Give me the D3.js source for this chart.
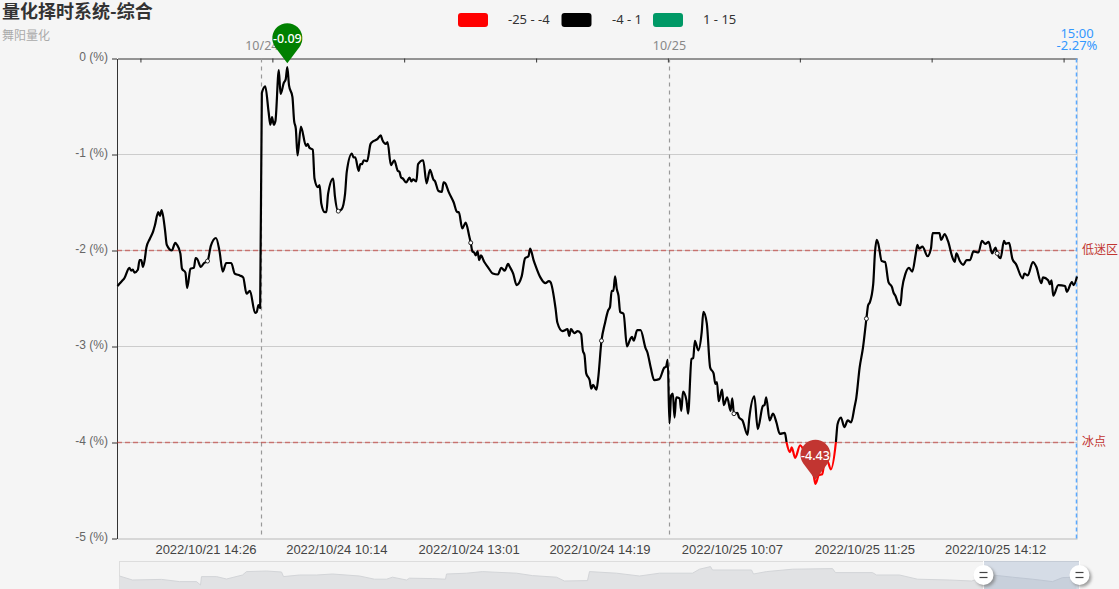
<!DOCTYPE html>
<html>
<head>
<meta charset="utf-8">
<script src="https://cdn.jsdelivr.net/npm/d3@7"></script>
<style>
    html, body { margin: 0; padding: 0; background: #f5f5f5; overflow: hidden; }
    svg { display: block; font-family: "Noto Sans", "Noto Sans CJK SC", sans-serif; }
</style>
</head>
<body>
<svg id="chart"></svg>
<script>
// [minute index, percent]
const day1021 = [[0,-2.37],[1,-2.35],[3,-2.31],[4,-2.29],[7,-2.18],[8,-2.21],[9,-2.20],[10,-2.23],[12,-2.20],[13,-2.10],[14,-2.10],[15,-2.17],[16,-2.10],
    [17,-1.97],[19,-1.88],[21,-1.80],[22,-1.74],[24,-1.60],[25,-1.64],[26,-1.58],[28,-1.79],[29,-1.94],[32,-2.00],[34,-1.92],[35,-1.94],[37,-2.03],
    [38,-2.19],[40,-2.23],[41,-2.39],[43,-2.19],[45,-2.18],[46,-2.08],[47,-2.09],[49,-2.17],[51,-2.13],[53,-2.11],[55,-1.95],[58,-1.87],[60,-2.00],
    [62,-2.22],[64,-2.13],[67,-2.13],[69,-2.24],[72,-2.26],[74,-2.28],[76,-2.45],[78,-2.42],[81,-2.65],[82,-2.64],[83,-2.57],[84,-2.60]];
const day1024 = [[85,-0.36],[87,-0.29],[89,-0.56],[90,-0.69],[91,-0.61],[92,-0.69],[93,-0.65],[95,-0.12],[96,-0.37],[98,-0.25],[99,-0.22],[100,-0.09],
    [101,-0.28],[103,-0.40],[104,-0.65],[105,-0.73],[106,-1.01],[108,-0.71],[111,-0.91],[112,-0.89],[113,-0.93],[115,-0.95],[116,-1.25],[118,-1.34],
    [119,-1.32],[120,-1.51],[122,-1.60],[123,-1.60],[124,-1.41],[127,-1.25],[128,-1.43],[130,-1.59],[132,-1.57],[134,-1.41],[135,-1.18],[138,-0.99],
    [139,-1.03],[140,-1.03],[142,-1.17],[143,-1.10],[144,-1.10],[145,-1.06],[147,-1.07],[149,-0.89],[150,-0.87],[153,-0.84],[155,-0.80],[156,-0.85],
    [158,-0.89],[159,-0.87],[161,-1.11],[163,-1.06],[165,-1.17],[166,-1.18],[167,-1.24],[168,-1.25],[170,-1.29],[172,-1.24],[173,-1.28],[174,-1.26],
    [176,-1.28],[177,-1.10],[180,-1.06],[182,-1.30],[184,-1.16],[186,-1.26],[187,-1.28],[189,-1.38],[191,-1.39],[192,-1.29],[193,-1.30],[195,-1.39],
    [198,-1.50],[200,-1.60],[201,-1.60],[203,-1.77],[205,-1.71],[207,-1.84],[208,-1.92],[209,-2.01],[210,-2.02],[211,-2.05],[212,-2.01],[213,-2.10],
    [214,-2.05],[216,-2.12],[218,-2.17],[221,-2.24],[224,-2.25],[226,-2.18],[228,-2.21],[230,-2.14],[231,-2.17],[233,-2.24],[235,-2.36],[238,-2.27],
    [240,-2.08],[242,-2.06],[243,-1.98],[245,-2.10],[246,-2.15],[249,-2.28],[252,-2.34],[254,-2.32],[255,-2.33],[258,-2.61],[259,-2.75],[262,-2.84],
    [265,-2.82],[266,-2.89],[267,-2.82],[269,-2.86],[271,-2.84],[273,-2.87],[274,-3.04],[275,-3.09],[276,-3.28],[278,-3.35],[279,-3.44],[280,-3.40],
    [282,-3.45],[283,-3.34],[285,-2.94],[287,-2.76],[289,-2.62],[290,-2.59],[291,-2.42],[292,-2.42],[293,-2.27],[294,-2.40],[295,-2.47],[296,-2.64],
    [298,-2.66],[300,-3.00],[302,-2.92],[303,-2.90],[304,-2.94],[306,-2.83],[308,-2.83],[311,-3.02],[312,-3.06],[314,-3.22],[316,-3.35],[319,-3.34],
    [322,-3.22],[323,-3.21],[324,-3.14]];
const day1025 = [[325,-3.80],[326,-3.51],[327,-3.49],[328,-3.74],[329,-3.53],[331,-3.54],[332,-3.67],[333,-3.47],[335,-3.56],[336,-3.70],[338,-3.13],
    [339,-3.12],[340,-2.94],[342,-3.04],[344,-2.85],[345,-2.64],[347,-2.76],[349,-3.22],[351,-3.28],[352,-3.39],[353,-3.37],[354,-3.57],[356,-3.45],
    [357,-3.61],[359,-3.53],[361,-3.67],[362,-3.54],[363,-3.70],[365,-3.69],[366,-3.74],[368,-3.77],[371,-3.92],[372,-3.75],[375,-3.52],[377,-3.86],
    [380,-3.62],[381,-3.61],[382,-3.53],[384,-3.77],[386,-3.70],[388,-3.79],[390,-3.91],[393,-3.90],[394,-4.00],[396,-4.10],[397,-4.05],[399,-4.16],
    [402,-4.03],[405,-4.12],[408,-4.25],[410,-4.35],[411,-4.43],[413,-4.34],[415,-4.33],[416,-4.24],[418,-4.19],[420,-4.28],[423,-4.00],[424,-3.81],
    [426,-3.74],[428,-3.84],[430,-3.77],[432,-3.79],[434,-3.63],[435,-3.54],[437,-3.22],[439,-3.01],[441,-2.71],[442,-2.57],[443,-2.54],[445,-2.35],
    [446,-2.03],[447,-1.89],[448,-1.93],[450,-2.11],[452,-2.12],[454,-2.33],[456,-2.38],[457,-2.44],[458,-2.47],[460,-2.56],[461,-2.57],[462,-2.40],
    [464,-2.24],[466,-2.18],[468,-2.22],[470,-2.04],[471,-1.94],[472,-1.98],[474,-1.96],[477,-2.06],[479,-1.98],[480,-1.82],[484,-1.82],[485,-1.89],
    [487,-1.83],[489,-1.90],[492,-2.09],[493,-2.12],[494,-2.03],[496,-2.11],[498,-2.15],[500,-2.10],[502,-2.10],[504,-2.01],[507,-2.02],[509,-1.90],
    [511,-1.93],[513,-1.91],[515,-2.03],[517,-1.97],[518,-2.03],[520,-2.08],[522,-1.90],[523,-1.93],[525,-1.92],[527,-2.09],[529,-2.14],[533,-2.29],
    [534,-2.24],[536,-2.26],[539,-2.12],[541,-2.17],[544,-2.34],[545,-2.28],[548,-2.31],[549,-2.35],[550,-2.31],[551,-2.47],[554,-2.36],[558,-2.37],
    [559,-2.43],[562,-2.33],[563,-2.36],[565,-2.27]];
const pctPoints = day1021.concat(day1024, day1025);

const xLabelIdx = [53, 130, 208, 285, 363, 441, 518];
const xLabels = ["2022/10/21 14:26", "2022/10/24 10:14", "2022/10/24 13:01", "2022/10/24 14:19", "2022/10/25 10:07", "2022/10/25 11:25", "2022/10/25 14:12"];
const topTickIdx = [13.5, 91.2, 168.8, 246.5, 324.1, 401.8, 479.4, 557.1];
const yTicks = [0, -1, -2, -3, -4, -5];
const gridVals = [-1, -2, -3, -4];

const dayBreakIdx = [85, 325];
const dayBreakLabels = ["10/24", "10/25"];
const markVals = [-2, -4];
const markNames = ["低迷区", "冰点"];
const pinIdx = [100, 411];
const pinVals = [-0.09, -4.43];
const pinColors = ["#008000", "#c23531"];
const lastIdx = 565;
const lastTime = "15:00";
const lastPct = "-2.27%";

const legendNames = ["-25 - -4", "-4 - 1", "1 - 15"];
const legendColors = ["#ff0000", "#000000", "#009966"];
const legendX = [458, 561.5, 653];
const legendTextX = [508, 612, 703];

// slider overview, whole history
const overview = [[0,-7.5],[13,-9.5],[42,-9.2],[60,-10.3],[77,-10.3],[81,-12],[82,-7.8],[97,-7.8],[107,-9],[123,-7],[127,-5.3],[147,-5],[162,-5.5],[164,-7.8],
    [180,-7],[197,-7],[213,-6.5],[240,-7.5],[255,-9.1],[267,-9.1],[273,-8.1],[287,-9.5],[290,-8.6],[313,-8.8],[326,-9.1],[327,-6.5],[347,-6.1],[363,-5.3],
    [397,-6.1],[413,-7.3],[437,-8.1],[445,-10],[468,-9.8],[470,-5.3],[497,-6.1],[520,-7.5],[540,-6.1],[573,-6.1],[580,-4.1],[591,-2.8],[593,-4.5],[632,-4.5],
    [634,-6.5],[647,-5.3],[673,-4.1],[713,-3.8],[716,-5.8],[753,-5.8],[757,-7],[780,-7],[798,-9.1],[830,-9.5],[852,-10],[873,-7],[893,-8.1],[913,-9.1],
    [933,-10.3],[943,-8.3],[957,-8.1]];
const sliderWindow = [864, 960];

const width = 1119, height = 589;
const svg = d3.select("#chart").attr("width", width).attr("height", height);

const x = d3.scaleLinear().domain([0, lastIdx]).range([117.5, 1077]);
const y = d3.scaleLinear().domain([-5, 0]).range([538.5, 58.5]);

// grid under everything
svg.append("g").selectAll("line").data(gridVals).enter().append("line")
    .attr("x1", 117).attr("x2", 1077)
    .attr("y1", d => y(d)).attr("y2", d => y(d))
    .attr("stroke", "#cccccc");

// right edge and bottom line
svg.append("line").attr("x1", 1077.5).attr("x2", 1077.5).attr("y1", y(0)).attr("y2", y(-5))
    .attr("stroke", "#dddddd").attr("stroke-width", 1);

// bottom axis, only labels
const xAxis = d3.axisBottom(x).tickValues(xLabelIdx)
    .tickFormat((d, i) => xLabels[i]).tickSize(0).tickPadding(6);
const gx = svg.append("g").attr("transform", "translate(0," + y(-5) + ")").call(xAxis);
gx.select(".domain").attr("stroke", "#cccccc").attr("stroke-width", 1.5);
gx.selectAll("text").attr("fill", "#444").attr("dx", -2).style("font-size", "13px").style("font-family", "inherit");

// top axis, ticks point inwards
const topAxis = d3.axisTop(x).tickValues(topTickIdx).tickFormat("").tickSizeInner(-4).tickSizeOuter(0);
const gt = svg.append("g").attr("transform", "translate(0," + y(0) + ")").call(topAxis);
gt.select(".domain").attr("stroke", "#333");
gt.selectAll("line").attr("stroke", "#333");

const yAxis = d3.axisLeft(y).tickValues(yTicks).tickFormat(d => d + " (%)").tickSize(5).tickSizeOuter(0).tickPadding(4);
const gy = svg.append("g").attr("transform", "translate(117,0)").call(yAxis);
gy.select(".domain").attr("stroke", "#333");
gy.selectAll("line").attr("stroke", "#333");
gy.selectAll("text").attr("fill", "#666").attr("transform", "translate(0,-1.5)").style("font-size", "12px").style("font-family", "inherit");

// day breaks
dayBreakIdx.forEach((d, i) => {
    svg.append("line")
        .attr("x1", Math.floor(x(d)) + 0.5).attr("x2", Math.floor(x(d)) + 0.5)
        .attr("y1", y(0)).attr("y2", y(-5))
        .attr("stroke", "#999").attr("stroke-width", 1.2).attr("stroke-dasharray", "4,4");
    svg.append("text").attr("x", x(d)).attr("y", 50)
        .attr("text-anchor", "middle").attr("fill", "#888").style("font-size", "12.5px")
        .text(dayBreakLabels[i]);
});

// warning levels
markVals.forEach((d, i) => {
    svg.append("line").attr("x1", 117).attr("x2", 1077)
        .attr("y1", y(d)).attr("y2", y(d))
        .attr("stroke", "#c23531").attr("stroke-opacity", 0.6)
        .attr("stroke-width", 1.5).attr("stroke-dasharray", "5,3");
    svg.append("text").attr("x", 1082).attr("y", y(d) + 3)
        .attr("fill", "#c23531").style("font-size", "12px").text(markNames[i]);
});

// latest value line
svg.append("line").attr("x1", 1076.5).attr("x2", 1076.5).attr("y1", y(0)).attr("y2", y(-5))
    .attr("stroke", "#5aa9ff").attr("stroke-width", 1.5).attr("stroke-dasharray", "4,3");
svg.append("text").attr("x", 1077).attr("y", 38).attr("text-anchor", "middle")
    .attr("fill", "#3398ff").style("font-size", "13px").text(lastTime);
svg.append("text").attr("x", 1077).attr("y", 50).attr("text-anchor", "middle")
    .attr("fill", "#3398ff").style("font-size", "13px").text(lastPct);

// line turns red under -4
const grad = svg.append("defs").append("linearGradient")
    .attr("id", "lineColor").attr("gradientUnits", "userSpaceOnUse")
    .attr("x1", 0).attr("x2", 0).attr("y1", y(0)).attr("y2", y(-5));
const redFrom = (y(-4) - y(0)) / (y(-5) - y(0));
grad.append("stop").attr("offset", redFrom).attr("stop-color", "#000");
grad.append("stop").attr("offset", redFrom).attr("stop-color", "#ff0000");

const line = d3.line().x(d => x(d[0])).y(d => y(d[1])).curve(d3.curveMonotoneX);
svg.append("path").datum(pctPoints).attr("d", line)
    .attr("fill", "none").attr("stroke", "url(#lineColor)")
    .attr("stroke-width", 2.2).attr("stroke-linejoin", "round");

// hollow symbols sit on the labelled points
svg.append("g").selectAll("circle").data(xLabelIdx).enter().append("circle")
    .attr("cx", d => x(d)).attr("cy", d => y(pctPoints.find(p => p[0] >= d)[1]))
    .attr("r", 2).attr("fill", "#fff").attr("stroke", "#222").attr("stroke-width", 1);

// pins
function pinPath(r, h) {
    const p = d3.path();
    const a = Math.acos(r / h);
    p.moveTo(0, 0);
    p.lineTo(r * Math.sin(a) * -1, -h + r * Math.cos(a));
    p.arc(0, -h, r, Math.PI - (Math.PI / 2 - a) , (Math.PI / 2 - a), false);
    p.closePath();
    return p.toString();
}
pinIdx.forEach((d, i) => {
    const g = svg.append("g").attr("transform", "translate(" + x(d) + "," + (y(pinVals[i]) - 4) + ")");
    g.append("path").attr("d", pinPath(15, 25)).attr("fill", pinColors[i]);
    g.append("text").attr("y", -20).attr("text-anchor", "middle")
        .attr("fill", "#fff").style("font-size", "12.5px").style("font-weight", 500)
        .text(pinVals[i]);
});

// title
svg.append("text").attr("x", 2).attr("y", 18).attr("fill", "#333")
    .style("font-size", "18px").style("font-weight", "bold")
    .style("font-family", "'Noto Sans CJK SC'").text("量化择时系统-综合");
svg.append("text").attr("x", 2).attr("y", 40).attr("fill", "#aaa")
    .style("font-size", "12px").style("font-family", "'Noto Sans CJK SC'").text("舞阳量化");

// legend
legendNames.forEach((d, i) => {
    svg.append("rect").attr("x", legendX[i]).attr("y", 13).attr("width", 30).attr("height", 14)
        .attr("rx", 3).attr("fill", legendColors[i]);
    svg.append("text").attr("x", legendTextX[i]).attr("y", 24)
        .attr("fill", "#333").style("font-size", "13px").text(d);
});

// slider
const sx = d3.scaleLinear().domain([0, 960]).range([119.5, 1079.5]);
const sy = d3.scaleLinear().domain([-14, 0]).range([589, 561]);
const area = d3.area().x(d => sx(d[0])).y0(sy(-14)).y1(d => sy(d[1]));
svg.append("rect").attr("x", 119.5).attr("y", 561.5).attr("width", 960).attr("height", 30)
    .attr("fill", "#f4f4f4").attr("stroke", "#dddddd");
svg.append("path").datum(overview).attr("d", area).attr("fill", "#e1e2e4");
svg.append("path").datum(overview).attr("d", d3.line().x(d => sx(d[0])).y(d => sy(d[1])))
    .attr("fill", "none").attr("stroke", "#d3d5d8");
svg.append("rect").attr("x", sx(sliderWindow[0])).attr("y", 561)
    .attr("width", sx(sliderWindow[1]) - sx(sliderWindow[0])).attr("height", 28)
    .attr("fill", "#8fa6c8").attr("fill-opacity", 0.3);

sliderWindow.forEach(d => {
    const g = svg.append("g").attr("transform", "translate(" + sx(d) + ",575)");
    g.append("line").attr("y1", -14).attr("y2", 14).attr("stroke", "#fff");
    g.append("circle").attr("cx", 2).attr("cy", 2).attr("r", 10).attr("fill", "#777").attr("fill-opacity", 0.7)
        .style("filter", "blur(1.5px)");
    g.append("circle").attr("r", 10).attr("fill", "#fff");
    g.append("line").attr("x1", -4).attr("x2", 4).attr("y1", -2.5).attr("y2", -2.5).attr("stroke", "#444").attr("stroke-width", 1.2);
    g.append("line").attr("x1", -4).attr("x2", 4).attr("y1", 2.5).attr("y2", 2.5).attr("stroke", "#444").attr("stroke-width", 1.2);
});
</script>
</body>
</html>
